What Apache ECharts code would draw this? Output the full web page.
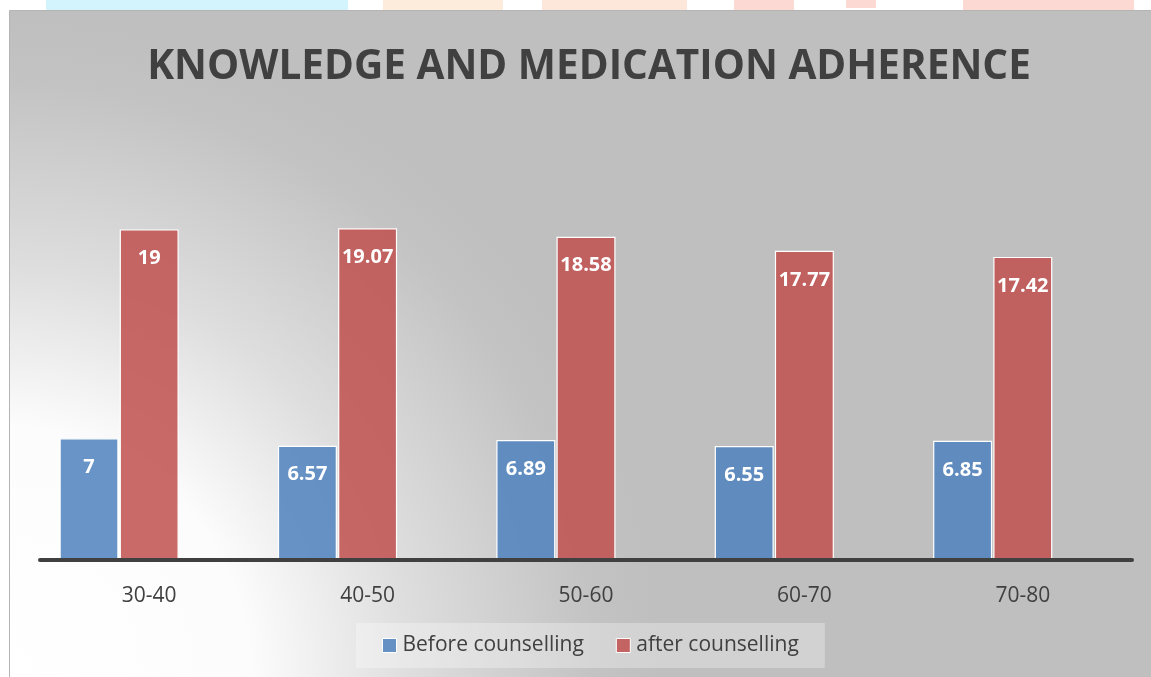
<!DOCTYPE html>
<html>
<head>
<meta charset="utf-8">
<script src="https://cdn.jsdelivr.net/npm/echarts@6/dist/echarts.min.js"></script>
<style>
html,body{margin:0;padding:0;background:#ffffff;}
#chart{width:1151px;height:677px;}
</style>
</head>
<body>
<div id="chart"></div>
<script>
const titleText = 'KNOWLEDGE AND MEDICATION ADHERENCE';
const categories = ['30-40', '40-50', '50-60', '60-70', '70-80'];
const seriesNames = ['Before counselling', 'after counselling'];
const beforeValues = [7, 6.57, 6.89, 6.55, 6.85];
const afterValues = [19, 19.07, 18.58, 17.77, 17.42];
const spacerValues = [null, null, null, null, null];

const chart = echarts.init(document.getElementById('chart'), null, {renderer: 'canvas'});
const FONT = '"Open Sans", "DejaVu Sans", sans-serif';

const labelStyle = {
  show: true,
  position: 'insideTop',
  distance: 19,
  color: '#ffffff',
  fontFamily: FONT,
  fontWeight: 'bold',
  fontSize: 20
};

chart.setOption({
  animation: false,
  backgroundColor: '#ffffff',
  graphic: [
    {type: 'rect', z: -10, silent: true, shape: {x: 46, y: 0, width: 302, height: 10}, style: {fill: '#d3f4fd'}},
    {type: 'rect', z: -10, silent: true, shape: {x: 383, y: 0, width: 120, height: 10}, style: {fill: '#fdebdb'}},
    {type: 'rect', z: -10, silent: true, shape: {x: 542, y: 0, width: 145, height: 10}, style: {fill: '#fde6da'}},
    {type: 'rect', z: -10, silent: true, shape: {x: 734, y: 0, width: 60, height: 10}, style: {fill: '#fdd9d4'}},
    {type: 'rect', z: -10, silent: true, shape: {x: 846, y: 0, width: 30, height: 8}, style: {fill: '#fdd9d4'}},
    {type: 'rect', z: -10, silent: true, shape: {x: 963, y: 0, width: 171, height: 10}, style: {fill: '#fdd9d4'}},
    {
      type: 'rect', z: -5, silent: true,
      shape: {x: 9.5, y: 10.5, width: 1145, height: 670},
      style: {
        fill: new echarts.graphic.RadialGradient(0, 677, 660, [
          {offset: 0, color: '#ffffff'},
          {offset: 0.38, color: '#fcfcfc'},
          {offset: 0.62, color: '#dedede'},
          {offset: 0.9, color: '#c3c3c3'},
          {offset: 1, color: '#bfbfbf'}
        ], true),
        stroke: '#b4b4b4',
        lineWidth: 1
      }
    }
  ],
  title: {
    text: titleText,
    left: 584,
    top: 42,
    textAlign: 'center',
    textStyle: {
      fontFamily: FONT,
      fontWeight: 'bold',
      fontSize: 40.5,
      color: '#404040'
    }
  },
  legend: {
    data: seriesNames,
    left: 356,
    top: 623,
    padding: [12, 26],
    itemGap: 32,
    itemWidth: 14,
    itemHeight: 14,
    backgroundColor: 'rgba(255,255,255,0.3)',
    icon: 'rect',
    itemStyle: {borderColor: '#ffffff', borderWidth: 1},
    textStyle: {fontFamily: FONT, fontSize: 21, color: '#404040', padding: [0, 0, 0, 1]}
  },
  grid: {left: 40, right: 19, top: 212, bottom: 117, containLabel: false},
  xAxis: {
    type: 'category',
    data: categories,
    axisLine: {show: true, lineStyle: {color: '#404040', width: 4}},
    axisTick: {show: false},
    axisLabel: {margin: 26, fontFamily: FONT, fontSize: 21, color: '#404040'},
    z: 5
  },
  yAxis: {
    type: 'value',
    min: 0,
    max: 20,
    show: false,
    splitLine: {show: false}
  },
  series: [
    {
      name: seriesNames[0],
      type: 'bar',
      data: beforeValues,
      barWidth: 59,
      barGap: '2%',
      itemStyle: {color: 'rgba(79,129,189,0.85)', borderColor: '#ffffff', borderWidth: 1.2},
      label: labelStyle
    },
    {
      name: seriesNames[1],
      type: 'bar',
      data: afterValues,
      barWidth: 59,
      barGap: '2%',
      itemStyle: {color: 'rgba(192,80,77,0.85)', borderColor: '#ffffff', borderWidth: 1.2},
      label: labelStyle
    },
    {
      name: 'spacer',
      type: 'bar',
      data: spacerValues,
      barWidth: 59,
      barGap: '2%',
      itemStyle: {color: 'transparent'},
      label: {show: false}
    }
  ]
});
</script>
</body>
</html>
